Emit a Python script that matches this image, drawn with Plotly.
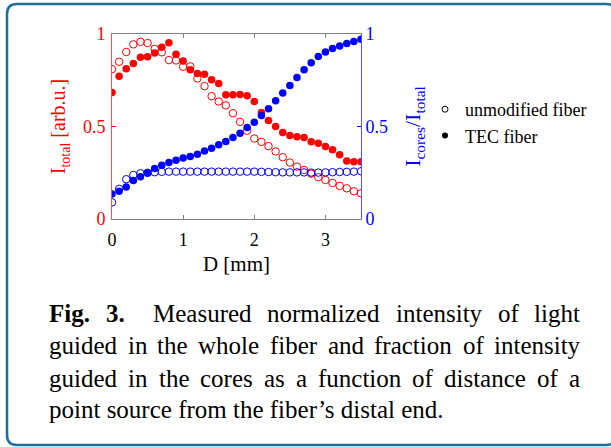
import plotly.graph_objects as go

# ---- data ----
D_mm = [round(0.1 * i, 1) for i in range(36)]

tec_total = [0.684, 0.771, 0.812, 0.841, 0.875, 0.877, 0.897, 0.928, 0.953, 0.890,
             0.854, 0.807, 0.787, 0.783, 0.753, 0.733, 0.671, 0.671, 0.673, 0.666,
             0.635, 0.576, 0.532, 0.500, 0.468, 0.451, 0.444, 0.440, 0.417, 0.410,
             0.392, 0.374, 0.347, 0.314, 0.310, 0.310]

unmod_total = [0.810, 0.850, 0.903, 0.944, 0.958, 0.951, 0.919, 0.901, 0.859, 0.857,
               0.823, 0.825, 0.760, 0.718, 0.664, 0.635, 0.614, 0.572, 0.525, 0.477,
               0.435, 0.417, 0.394, 0.365, 0.334, 0.305, 0.283, 0.265, 0.245, 0.226,
               0.211, 0.195, 0.179, 0.166, 0.150, 0.139]

tec_cores = [0.135, 0.150, 0.173, 0.208, 0.229, 0.249, 0.273, 0.291, 0.305, 0.318,
             0.330, 0.338, 0.350, 0.368, 0.383, 0.401, 0.419, 0.440, 0.464, 0.495,
             0.523, 0.560, 0.596, 0.639, 0.681, 0.722, 0.765, 0.807, 0.845, 0.879,
             0.903, 0.921, 0.935, 0.949, 0.960, 0.971]

unmod_cores = [0.090, 0.163, 0.215, 0.238, 0.247, 0.250, 0.253, 0.255, 0.256, 0.256,
               0.256, 0.256, 0.256, 0.256, 0.256, 0.256, 0.256, 0.256, 0.256, 0.256,
               0.256, 0.255, 0.254, 0.253, 0.252, 0.252, 0.252, 0.252, 0.251, 0.251,
               0.252, 0.253, 0.254, 0.255, 0.256, 0.258]

x_ticks = [0, 1, 2, 3]
y_ticks = [0, 0.5, 1]
y_ticklabels = ["0", "0.5", "1"]

caption_label = ["Fig.", "3."]
caption_lines = [
    "Measured normalized intensity of light",
    "guided in the whole fiber and fraction of intensity",
    "guided in the cores as a function of distance of a",
    "point source from the fiber’s distal end.",
]

# ---- layout geometry ----
W, H = 611, 447
L, R, T, B = 112, 361, 34, 219  # plot area in pixels
FONT = "Liberation Serif, Times New Roman, serif"
RED, BLUE = "#ff0000", "#0000ff"
CAP_SIZE = 25


def px(x):
    return (x - L) / (R - L)


def py(y):
    return (B - y) / (B - T)


# Times-Roman advance widths (per 1000 em) used to justify the caption
TIMES = dict(a=444, b=500, c=444, d=500, e=444, f=333, g=500, h=500, i=278, j=278,
             k=500, l=278, m=778, n=500, o=500, p=500, q=500, r=333, s=389, t=278,
             u=500, v=500, w=722, x=500, y=500, z=444, M=889, F=556)
TIMES.update({".": 250, "’": 333, " ": 250, "3": 500})


def text_w(s, size):
    return sum(TIMES.get(ch, 500) for ch in s) * size / 1000.0


fig = go.Figure()
ms = 7.5
fig.add_trace(go.Scatter(x=D_mm, y=unmod_total, mode="markers", showlegend=False,
                         marker=dict(symbol="circle-open", size=ms, color=RED, line=dict(width=1))))
fig.add_trace(go.Scatter(x=D_mm, y=tec_total, mode="markers", showlegend=False,
                         marker=dict(symbol="circle", size=ms, color=RED, line=dict(width=0))))
fig.add_trace(go.Scatter(x=D_mm, y=unmod_cores, mode="markers", showlegend=False, yaxis="y2",
                         marker=dict(symbol="circle-open", size=ms, color=BLUE, line=dict(width=1))))
fig.add_trace(go.Scatter(x=D_mm, y=tec_cores, mode="markers", showlegend=False, yaxis="y2",
                         marker=dict(symbol="circle", size=ms, color=BLUE, line=dict(width=0))))
# legend entries (black symbols)
fig.add_trace(go.Scatter(x=[None], y=[None], mode="markers", name="unmodified fiber",
                         marker=dict(symbol="circle-open", size=6, color="black", line=dict(width=1))))
fig.add_trace(go.Scatter(x=[None], y=[None], mode="markers", name="TEC fiber",
                         marker=dict(symbol="circle", size=6, color="black")))

# card border (rounded rectangle)
x0, x1, y0, y1, r = 7, 616, 4, 445, 10
path = (f"M {px(x0)},{py(y0 + r)} Q {px(x0)},{py(y0)} {px(x0 + r)},{py(y0)} "
        f"L {px(x1 - r)},{py(y0)} Q {px(x1)},{py(y0)} {px(x1)},{py(y0 + r)} "
        f"L {px(x1)},{py(y1 - r)} Q {px(x1)},{py(y1)} {px(x1 - r)},{py(y1)} "
        f"L {px(x0 + r)},{py(y1)} Q {px(x0)},{py(y1)} {px(x0)},{py(y1 - r)} Z")
shapes = [dict(type="path", xref="paper", yref="paper", path=path,
               line=dict(color="#1f6d9c", width=2.5), layer="below")]

annotations = []


def word(txt, x, y, bold=False):
    annotations.append(dict(xref="paper", yref="paper", x=px(x), y=py(y),
                            text=f"<b>{txt}</b>" if bold else txt,
                            showarrow=False, xanchor="left", yanchor="middle",
                            font=dict(family=FONT, size=CAP_SIZE, color="black")))


def justified(line, x_left, x_right, y):
    words = line.split(" ")
    total = sum(text_w(w, CAP_SIZE) for w in words)
    gap = (x_right - x_left - total) / (len(words) - 1)
    x = x_left
    for w in words:
        word(w, x, y)
        x += text_w(w, CAP_SIZE) + gap


LEFT_X, RIGHT_X = 47, 578
cap_y = [313, 345, 378, 410]
word(caption_label[0], LEFT_X, cap_y[0], bold=True)
word(caption_label[1], 104, cap_y[0], bold=True)
justified(caption_lines[0], 151, RIGHT_X, cap_y[0])
justified(caption_lines[1], LEFT_X, RIGHT_X, cap_y[1])
justified(caption_lines[2], LEFT_X, RIGHT_X, cap_y[2])
word(caption_lines[3], LEFT_X, cap_y[3])

fig.update_layout(
    width=W, height=H,
    margin=dict(l=L, r=W - R, t=T, b=H - B),
    paper_bgcolor="white", plot_bgcolor="white",
    font=dict(family=FONT, size=18, color="black"),
    xaxis=dict(range=[0, 3.5], tickvals=x_ticks, ticks="inside", ticklen=4,
               tickcolor="#808080", linecolor="#808080", linewidth=1, mirror="ticks",
               showgrid=False, zeroline=False, tickfont=dict(size=18, color="black"),
               ticklabelstandoff=4,
               title=dict(text="D [mm]", font=dict(size=21), standoff=7)),
    yaxis=dict(range=[0, 1], tickvals=y_ticks, ticktext=y_ticklabels, ticks="inside",
               ticklen=4, tickcolor=RED, linecolor="#ff5050", linewidth=1,
               showgrid=False, zeroline=False, tickfont=dict(size=18, color=RED),
               ticklabelstandoff=2,
               title=dict(text="I<sub>total</sub> [arb.u.]", font=dict(size=20, color=RED),
                          standoff=11)),
    yaxis2=dict(range=[0, 1], tickvals=y_ticks, ticktext=y_ticklabels, ticks="inside",
                ticklen=4, tickcolor=BLUE, linecolor="#5050ff", linewidth=1,
                overlaying="y", side="right", showgrid=False, zeroline=False,
                tickfont=dict(size=18, color=BLUE),
                title=dict(text="I<sub>cores</sub>/I<sub>total</sub>",
                           font=dict(size=22, color=BLUE), standoff=17)),
    legend=dict(x=px(425), y=py(91), xanchor="left", yanchor="top",
                font=dict(family=FONT, size=18, color="black"),
                bgcolor="rgba(0,0,0,0)", tracegroupgap=0),
    shapes=shapes,
    annotations=annotations,
)

fig.write_html("out.html", config={"displayModeBar": False},
               post_script="document.body.style.margin='0px';")
